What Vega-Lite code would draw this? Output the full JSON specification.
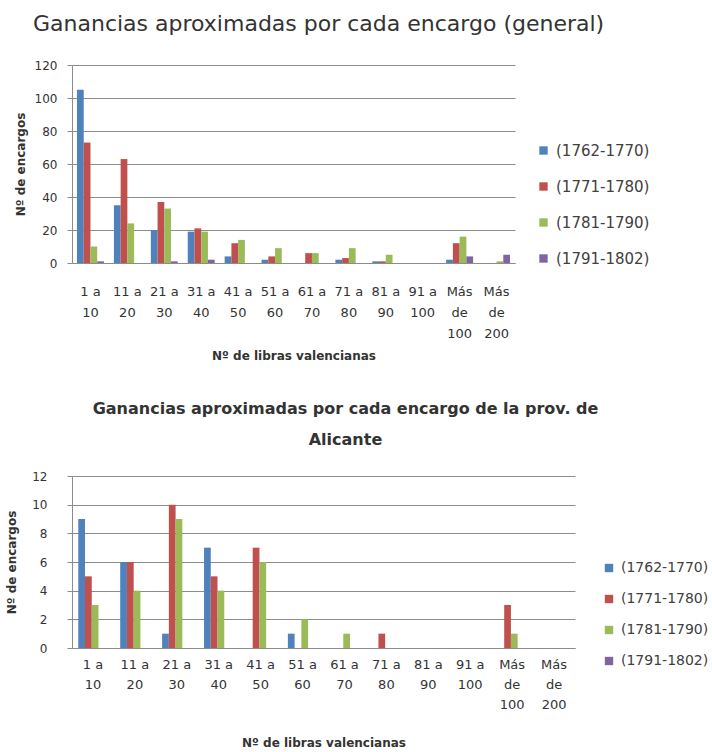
{
  "$schema": "https://vega.github.io/schema/vega-lite/v6.json",
  "background": "white",
  "padding": {"left": 5, "top": 13, "right": 0, "bottom": 0},
  "spacing": 40,
  "config": {
    "font": "DejaVu Sans",
    "view": {"stroke": null},
    "axis": {"labelColor": "#333333", "titleColor": "#333333", "labelFont": "DejaVu Sans", "titleFont": "DejaVu Sans"},
    "legend": {"labelFont": "DejaVu Sans", "labelColor": "#404040"},
    "title": {"font": "DejaVu Sans"}
  },
  "datasets": {
    "general": [
      {"rango": "1 a 10", "periodo": "(1762-1770)", "n": 105},
      {"rango": "1 a 10", "periodo": "(1771-1780)", "n": 73},
      {"rango": "1 a 10", "periodo": "(1781-1790)", "n": 10},
      {"rango": "1 a 10", "periodo": "(1791-1802)", "n": 1},
      {"rango": "11 a 20", "periodo": "(1762-1770)", "n": 35},
      {"rango": "11 a 20", "periodo": "(1771-1780)", "n": 63},
      {"rango": "11 a 20", "periodo": "(1781-1790)", "n": 24},
      {"rango": "11 a 20", "periodo": "(1791-1802)", "n": 0},
      {"rango": "21 a 30", "periodo": "(1762-1770)", "n": 20},
      {"rango": "21 a 30", "periodo": "(1771-1780)", "n": 37},
      {"rango": "21 a 30", "periodo": "(1781-1790)", "n": 33},
      {"rango": "21 a 30", "periodo": "(1791-1802)", "n": 1},
      {"rango": "31 a 40", "periodo": "(1762-1770)", "n": 19},
      {"rango": "31 a 40", "periodo": "(1771-1780)", "n": 21},
      {"rango": "31 a 40", "periodo": "(1781-1790)", "n": 19},
      {"rango": "31 a 40", "periodo": "(1791-1802)", "n": 2},
      {"rango": "41 a 50", "periodo": "(1762-1770)", "n": 4},
      {"rango": "41 a 50", "periodo": "(1771-1780)", "n": 12},
      {"rango": "41 a 50", "periodo": "(1781-1790)", "n": 14},
      {"rango": "41 a 50", "periodo": "(1791-1802)", "n": 0},
      {"rango": "51 a 60", "periodo": "(1762-1770)", "n": 2},
      {"rango": "51 a 60", "periodo": "(1771-1780)", "n": 4},
      {"rango": "51 a 60", "periodo": "(1781-1790)", "n": 9},
      {"rango": "51 a 60", "periodo": "(1791-1802)", "n": 0},
      {"rango": "61 a 70", "periodo": "(1762-1770)", "n": 0},
      {"rango": "61 a 70", "periodo": "(1771-1780)", "n": 6},
      {"rango": "61 a 70", "periodo": "(1781-1790)", "n": 6},
      {"rango": "61 a 70", "periodo": "(1791-1802)", "n": 0},
      {"rango": "71 a 80", "periodo": "(1762-1770)", "n": 2},
      {"rango": "71 a 80", "periodo": "(1771-1780)", "n": 3},
      {"rango": "71 a 80", "periodo": "(1781-1790)", "n": 9},
      {"rango": "71 a 80", "periodo": "(1791-1802)", "n": 0},
      {"rango": "81 a 90", "periodo": "(1762-1770)", "n": 1},
      {"rango": "81 a 90", "periodo": "(1771-1780)", "n": 1},
      {"rango": "81 a 90", "periodo": "(1781-1790)", "n": 5},
      {"rango": "81 a 90", "periodo": "(1791-1802)", "n": 0},
      {"rango": "91 a 100", "periodo": "(1762-1770)", "n": 0},
      {"rango": "91 a 100", "periodo": "(1771-1780)", "n": 0},
      {"rango": "91 a 100", "periodo": "(1781-1790)", "n": 0},
      {"rango": "91 a 100", "periodo": "(1791-1802)", "n": 0},
      {"rango": "Más de 100", "periodo": "(1762-1770)", "n": 2},
      {"rango": "Más de 100", "periodo": "(1771-1780)", "n": 12},
      {"rango": "Más de 100", "periodo": "(1781-1790)", "n": 16},
      {"rango": "Más de 100", "periodo": "(1791-1802)", "n": 4},
      {"rango": "Más de 200", "periodo": "(1762-1770)", "n": 0},
      {"rango": "Más de 200", "periodo": "(1771-1780)", "n": 0},
      {"rango": "Más de 200", "periodo": "(1781-1790)", "n": 1},
      {"rango": "Más de 200", "periodo": "(1791-1802)", "n": 5}
    ],
    "alicante": [
      {"rango": "1 a 10", "periodo": "(1762-1770)", "n": 9},
      {"rango": "1 a 10", "periodo": "(1771-1780)", "n": 5},
      {"rango": "1 a 10", "periodo": "(1781-1790)", "n": 3},
      {"rango": "1 a 10", "periodo": "(1791-1802)", "n": 0},
      {"rango": "11 a 20", "periodo": "(1762-1770)", "n": 6},
      {"rango": "11 a 20", "periodo": "(1771-1780)", "n": 6},
      {"rango": "11 a 20", "periodo": "(1781-1790)", "n": 4},
      {"rango": "11 a 20", "periodo": "(1791-1802)", "n": 0},
      {"rango": "21 a 30", "periodo": "(1762-1770)", "n": 1},
      {"rango": "21 a 30", "periodo": "(1771-1780)", "n": 10},
      {"rango": "21 a 30", "periodo": "(1781-1790)", "n": 9},
      {"rango": "21 a 30", "periodo": "(1791-1802)", "n": 0},
      {"rango": "31 a 40", "periodo": "(1762-1770)", "n": 7},
      {"rango": "31 a 40", "periodo": "(1771-1780)", "n": 5},
      {"rango": "31 a 40", "periodo": "(1781-1790)", "n": 4},
      {"rango": "31 a 40", "periodo": "(1791-1802)", "n": 0},
      {"rango": "41 a 50", "periodo": "(1762-1770)", "n": 0},
      {"rango": "41 a 50", "periodo": "(1771-1780)", "n": 7},
      {"rango": "41 a 50", "periodo": "(1781-1790)", "n": 6},
      {"rango": "41 a 50", "periodo": "(1791-1802)", "n": 0},
      {"rango": "51 a 60", "periodo": "(1762-1770)", "n": 1},
      {"rango": "51 a 60", "periodo": "(1771-1780)", "n": 0},
      {"rango": "51 a 60", "periodo": "(1781-1790)", "n": 2},
      {"rango": "51 a 60", "periodo": "(1791-1802)", "n": 0},
      {"rango": "61 a 70", "periodo": "(1762-1770)", "n": 0},
      {"rango": "61 a 70", "periodo": "(1771-1780)", "n": 0},
      {"rango": "61 a 70", "periodo": "(1781-1790)", "n": 1},
      {"rango": "61 a 70", "periodo": "(1791-1802)", "n": 0},
      {"rango": "71 a 80", "periodo": "(1762-1770)", "n": 0},
      {"rango": "71 a 80", "periodo": "(1771-1780)", "n": 1},
      {"rango": "71 a 80", "periodo": "(1781-1790)", "n": 0},
      {"rango": "71 a 80", "periodo": "(1791-1802)", "n": 0},
      {"rango": "81 a 90", "periodo": "(1762-1770)", "n": 0},
      {"rango": "81 a 90", "periodo": "(1771-1780)", "n": 0},
      {"rango": "81 a 90", "periodo": "(1781-1790)", "n": 0},
      {"rango": "81 a 90", "periodo": "(1791-1802)", "n": 0},
      {"rango": "91 a 100", "periodo": "(1762-1770)", "n": 0},
      {"rango": "91 a 100", "periodo": "(1771-1780)", "n": 0},
      {"rango": "91 a 100", "periodo": "(1781-1790)", "n": 0},
      {"rango": "91 a 100", "periodo": "(1791-1802)", "n": 0},
      {"rango": "Más de 100", "periodo": "(1762-1770)", "n": 0},
      {"rango": "Más de 100", "periodo": "(1771-1780)", "n": 3},
      {"rango": "Más de 100", "periodo": "(1781-1790)", "n": 1},
      {"rango": "Más de 100", "periodo": "(1791-1802)", "n": 0},
      {"rango": "Más de 200", "periodo": "(1762-1770)", "n": 0},
      {"rango": "Más de 200", "periodo": "(1771-1780)", "n": 0},
      {"rango": "Más de 200", "periodo": "(1781-1790)", "n": 0},
      {"rango": "Más de 200", "periodo": "(1791-1802)", "n": 0}
    ]
  },
  "resolve": {"scale": {"color": "independent", "x": "independent", "y": "independent"}, "legend": {"color": "independent"}},
  "vconcat": [
    {
      "data": {"name": "general"},
      "width": 443,
      "height": 198,
      "title": {"text": "Ganancias aproximadas por cada encargo (general)", "anchor": "start", "frame": "group", "dx": -39, "fontSize": 22, "fontWeight": "normal", "color": "#333333", "offset": 23},
      "mark": {"type": "bar"},
      "encoding": {
        "x": {
          "field": "rango", "type": "nominal",
          "sort": ["1 a 10","11 a 20","21 a 30","31 a 40","41 a 50","51 a 60","61 a 70","71 a 80","81 a 90","91 a 100","Más de 100","Más de 200"],
          "scale": {"paddingInner": 0.27, "paddingOuter": 0.135},
          "axis": {
            "title": "Nº de libras valencianas", "titleFontSize": 12, "titleFontWeight": "bold", "titlePadding": 10,
            "labelAngle": 0, "labelFontSize": 13, "labelLineHeight": 21, "labelPadding": 22, "ticks": false,
            "domainColor": "#8c8c8c",
            "labelExpr": "indexof(datum.value,'Más')==0 ? split(datum.value,' ') : [substring(datum.value,0,indexof(datum.value,' a ')+2), substring(datum.value,indexof(datum.value,' a ')+3)]"
          }
        },
        "xOffset": {"field": "periodo", "type": "nominal", "sort": ["(1762-1770)","(1771-1780)","(1781-1790)","(1791-1802)"]},
        "y": {
          "field": "n", "type": "quantitative",
          "scale": {"domain": [0, 120]},
          "axis": {
            "title": "Nº de encargos", "titleFontSize": 12, "titleFontWeight": "bold", "titlePadding": 7,
            "values": [0,20,40,60,80,100,120], "labelFontSize": 12, "labelPadding": 10, "tickSize": 5, "tickColor": "#8c8c8c",
            "domainColor": "#8c8c8c", "grid": true, "gridColor": "#8c8c8c"
          }
        },
        "color": {
          "field": "periodo", "type": "nominal",
          "scale": {"domain": ["(1762-1770)","(1771-1780)","(1781-1790)","(1791-1802)"], "range": ["#4F81BD","#C0504D","#9BBB59","#8064A2"]},
          "legend": {"title": null, "orient": "none", "legendX": 464, "legendY": 78, "symbolType": "square", "symbolSize": 70, "symbolStrokeWidth": 0, "labelFontSize": 15, "rowPadding": 20, "labelOffset": 5}
        }
      }
    },
    {
      "data": {"name": "alicante"},
      "width": 503,
      "height": 172,
      "title": {"text": ["Ganancias aproximadas por cada encargo de la prov. de", "Alicante"], "anchor": "middle", "frame": "group", "dx": 22, "fontSize": 16, "fontWeight": "bold", "color": "#333333", "lineHeight": 31, "offset": 22},
      "mark": {"type": "bar"},
      "encoding": {
        "x": {
          "field": "rango", "type": "nominal",
          "sort": ["1 a 10","11 a 20","21 a 30","31 a 40","41 a 50","51 a 60","61 a 70","71 a 80","81 a 90","91 a 100","Más de 100","Más de 200"],
          "scale": {"paddingInner": 0.3, "paddingOuter": 0.15},
          "axis": {
            "title": "Nº de libras valencianas", "titleFontSize": 12, "titleFontWeight": "bold", "titlePadding": 26,
            "labelAngle": 0, "labelFontSize": 13, "labelLineHeight": 20, "labelPadding": 10, "ticks": false,
            "domainColor": "#8c8c8c",
            "labelExpr": "indexof(datum.value,'Más')==0 ? split(datum.value,' ') : [substring(datum.value,0,indexof(datum.value,' a ')+2), substring(datum.value,indexof(datum.value,' a ')+3)]"
          }
        },
        "xOffset": {"field": "periodo", "type": "nominal", "sort": ["(1762-1770)","(1771-1780)","(1781-1790)","(1791-1802)"]},
        "y": {
          "field": "n", "type": "quantitative",
          "scale": {"domain": [0, 12]},
          "axis": {
            "title": "Nº de encargos", "titleFontSize": 12, "titleFontWeight": "bold", "titlePadding": 13,
            "values": [0,2,4,6,8,10,12], "labelFontSize": 12, "labelPadding": 20, "tickSize": 5, "tickColor": "#8c8c8c",
            "domainColor": "#8c8c8c", "grid": true, "gridColor": "#8c8c8c"
          }
        },
        "color": {
          "field": "periodo", "type": "nominal",
          "scale": {"domain": ["(1762-1770)","(1771-1780)","(1781-1790)","(1791-1802)"], "range": ["#4F81BD","#C0504D","#9BBB59","#8064A2"]},
          "legend": {"title": null, "orient": "none", "legendX": 530, "legendY": 85, "symbolType": "square", "symbolSize": 70, "symbolStrokeWidth": 0, "labelFontSize": 14, "rowPadding": 17, "labelOffset": 5}
        }
      }
    }
  ]
}
